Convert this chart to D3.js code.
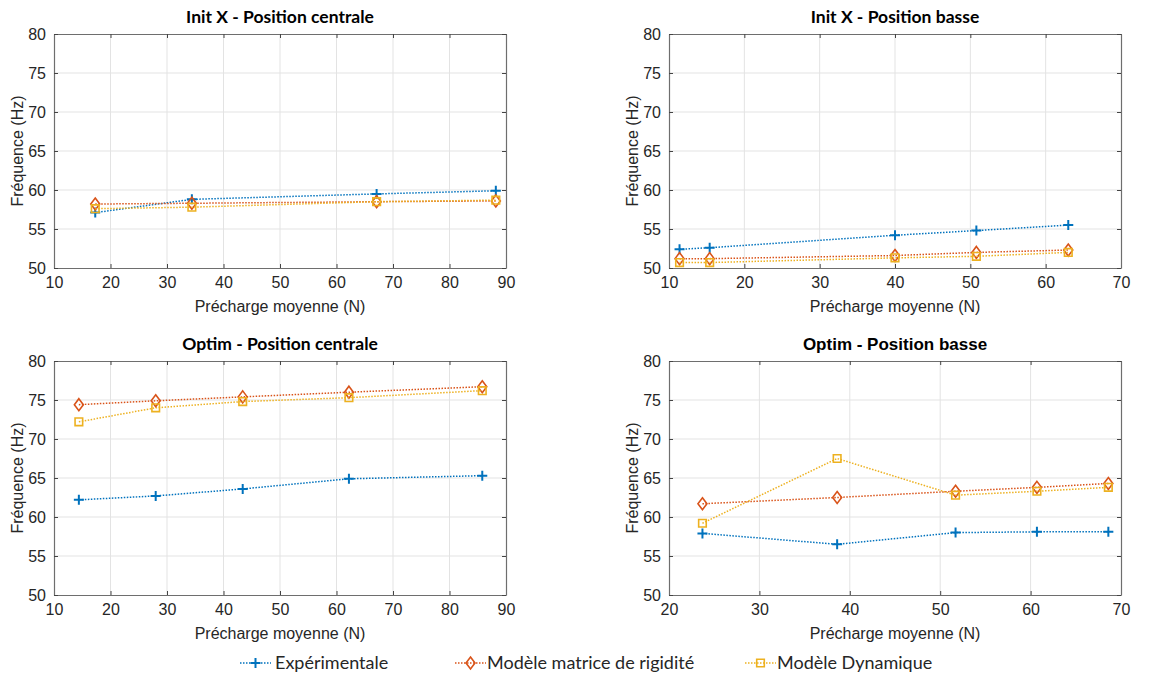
<!DOCTYPE html>
<html>
<head>
<meta charset="utf-8">
<script src="https://cdn.jsdelivr.net/npm/d3@7"></script>
<style>
  html, body { margin: 0; padding: 0; background: #fff; }
  svg { display: block; }
</style>
</head>
<body>
<svg id="chart" width="1154" height="675"></svg>
<script>
// ---- Data ----
const seriesNames = ["Expérimentale", "Modèle matrice de rigidité", "Modèle Dynamique"];
const seriesColors = ["#0072BD", "#D95319", "#EDB120"];
const seriesMarkers = ["plus", "diamond", "square"];

const yTicks = [50, 55, 60, 65, 70, 75, 80];

// Panel 1: Init X - Position centrale
const p1Title = "Init X - Position centrale";
const p1XTicks = [10, 20, 30, 40, 50, 60, 70, 80, 90];
const p1X   = [17.3, 34.4, 67.1, 88.2];
const p1Exp = [57.1, 58.8, 59.5, 59.9];
const p1Rig = [58.2, 58.3, 58.5, 58.6];
const p1Dyn = [57.6, 57.8, 58.5, 58.7];

// Panel 2: Init X - Position basse
const p2Title = "Init X - Position basse";
const p2XTicks = [10, 20, 30, 40, 50, 60, 70];
const p2X   = [11.4, 15.4, 40.0, 50.8, 63.0];
const p2Exp = [52.4, 52.6, 54.2, 54.8, 55.5];
const p2Rig = [51.2, 51.2, 51.6, 52.0, 52.3];
const p2Dyn = [50.7, 50.7, 51.3, 51.5, 52.0];

// Panel 3: Optim - Position centrale
const p3Title = "Optim - Position centrale";
const p3XTicks = [10, 20, 30, 40, 50, 60, 70, 80, 90];
const p3X   = [14.4, 28.0, 43.4, 62.2, 85.8];
const p3Exp = [62.2, 62.7, 63.6, 64.9, 65.3];
const p3Rig = [74.4, 74.9, 75.4, 76.0, 76.7];
const p3Dyn = [72.2, 74.0, 74.8, 75.3, 76.2];

// Panel 4: Optim - Position basse
const p4Title = "Optim - Position basse";
const p4XTicks = [20, 30, 40, 50, 60, 70];
const p4X   = [23.7, 38.6, 51.7, 60.7, 68.6];
const p4Exp = [57.9, 56.5, 58.0, 58.1, 58.1];
const p4Rig = [61.7, 62.5, 63.3, 63.8, 64.3];
const p4Dyn = [59.2, 67.5, 62.8, 63.3, 63.8];

const xLabel = "Précharge moyenne (N)";
const yLabel = "Fréquence (Hz)";

// ---- Layout ----
const panels = [
  { title: p1Title, titleFont: "Lato", xTicks: p1XTicks, x: p1X, ys: [p1Exp, p1Rig, p1Dyn], left: 54, top: 34 },
  { title: p2Title, titleFont: "Lato", xTicks: p2XTicks, x: p2X, ys: [p2Exp, p2Rig, p2Dyn], left: 669, top: 34 },
  { title: p3Title, titleFont: "Lato", xTicks: p3XTicks, x: p3X, ys: [p3Exp, p3Rig, p3Dyn], left: 54, top: 361 },
  { title: p4Title, titleFont: "Liberation Sans", xTicks: p4XTicks, x: p4X, ys: [p4Exp, p4Rig, p4Dyn], left: 669, top: 361 }
];
const plotW = 452, plotH = 234;
const axisColor = "#6e6e6e";
const tickColor = "#444";
const textColor = "#262626";
const gridColor = "#e3e3e3";
const sansFont = "'Liberation Sans', Arial, sans-serif";

const svg = d3.select("#chart");

function markerPath(type) {
  if (type === "plus") return "M-5,0H5M0,-5V5";
  if (type === "diamond") return "M0,-6L4.5,0L0,6L-4.5,0Z";
  return "M-3.8,-3.8H3.8V3.8H-3.8Z";
}

panels.forEach(p => {
  const g = svg.append("g").attr("transform", `translate(${p.left},${p.top})`);
  const x = d3.scaleLinear().domain(d3.extent(p.xTicks)).range([0, plotW]);
  const y = d3.scaleLinear().domain([50, 80]).range([plotH, 0]);

  // grid
  g.append("g").selectAll("line").data(p.xTicks.slice(1, -1)).join("line")
    .attr("x1", d => x(d)).attr("x2", d => x(d)).attr("y1", 0).attr("y2", plotH)
    .attr("stroke", gridColor).attr("stroke-width", 1);
  g.append("g").selectAll("line").data(yTicks.slice(1, -1)).join("line")
    .attr("y1", d => y(d)).attr("y2", d => y(d)).attr("x1", 0).attr("x2", plotW)
    .attr("stroke", gridColor).attr("stroke-width", 1);

  // axes
  const tickLen = 4;
  const xb = g.append("g").attr("transform", `translate(0,${plotH})`)
    .call(d3.axisBottom(x).tickValues(p.xTicks).tickSizeInner(-tickLen).tickSizeOuter(0).tickPadding(8));
  const xt = g.append("g")
    .call(d3.axisTop(x).tickValues(p.xTicks).tickSizeInner(-tickLen).tickSizeOuter(0).tickFormat(""));
  const yl = g.append("g")
    .call(d3.axisLeft(y).tickValues(yTicks).tickSizeInner(-tickLen).tickSizeOuter(0).tickPadding(8));
  const yr = g.append("g").attr("transform", `translate(${plotW},0)`)
    .call(d3.axisRight(y).tickValues(yTicks).tickSizeInner(-tickLen).tickSizeOuter(0).tickFormat(""));
  [xb, xt, yl, yr].forEach(a => {
    a.attr("font-family", null).attr("font-size", null);
    a.select(".domain").attr("stroke", axisColor).attr("stroke-width", 1.2);
    a.selectAll(".tick line").attr("stroke", tickColor);
    a.selectAll("text").attr("fill", textColor)
      .style("font-family", sansFont).style("font-size", "16px");
  });
  xb.selectAll("text").attr("dy", "0.72em");

  // series
  p.ys.forEach((ys, si) => {
    const pts = p.x.map((xv, i) => [xv, ys[i]]);
    g.append("path").datum(pts)
      .attr("d", d3.line().x(d => x(d[0])).y(d => y(d[1])))
      .attr("fill", "none").attr("stroke", seriesColors[si])
      .attr("stroke-width", 1.5).attr("stroke-dasharray", "1.5,1.5");
    g.append("g").selectAll("path").data(pts).join("path")
      .attr("transform", d => `translate(${x(d[0])},${y(d[1])})`)
      .attr("d", markerPath(seriesMarkers[si]))
      .attr("fill", "none").attr("stroke", seriesColors[si])
      .attr("stroke-width", si === 0 ? 2 : 1.6);
  });

  // title
  const isLato = p.titleFont === "Lato";
  g.append("text").attr("x", plotW / 2).attr("y", -11)
    .attr("text-anchor", "middle").attr("fill", "#000")
    .style("font-family", isLato ? "Lato, sans-serif" : sansFont).style("font-weight", "bold")
    .style("font-size", isLato ? "17.5px" : "17px")
    .text(p.title);

  // x label
  g.append("text").attr("x", plotW / 2).attr("y", plotH + 44)
    .attr("text-anchor", "middle").attr("fill", textColor)
    .style("font-family", sansFont).style("font-size", "16px")
    .text(xLabel);

  // y label
  g.append("text").attr("transform", `translate(-31,${plotH / 2}) rotate(-90)`)
    .attr("text-anchor", "middle").attr("fill", textColor)
    .style("font-family", sansFont).style("font-size", "16px")
    .text(yLabel);
});

// ---- Legend ----
const legendX = [240, 455, 745];
const legend = svg.append("g").attr("transform", "translate(0,663)");
seriesNames.forEach((name, i) => {
  const lg = legend.append("g").attr("transform", `translate(${legendX[i]},0)`);
  lg.append("line").attr("x1", 0).attr("x2", 31).attr("y1", 0).attr("y2", 0)
    .attr("stroke", seriesColors[i]).attr("stroke-width", 1.5).attr("stroke-dasharray", "1.5,1.5");
  lg.append("path").attr("transform", "translate(15.5,0)")
    .attr("d", markerPath(seriesMarkers[i]))
    .attr("fill", "none").attr("stroke", seriesColors[i]).attr("stroke-width", i === 0 ? 2 : 1.6);
  lg.append("text").attr("x", i === 0 ? 35 : 32).attr("y", 0).attr("dy", "0.35em")
    .attr("fill", textColor)
    .style("font-family", "Lato, sans-serif").style("font-size", "18px")
    .text(name);
});
</script>
</body>
</html>
